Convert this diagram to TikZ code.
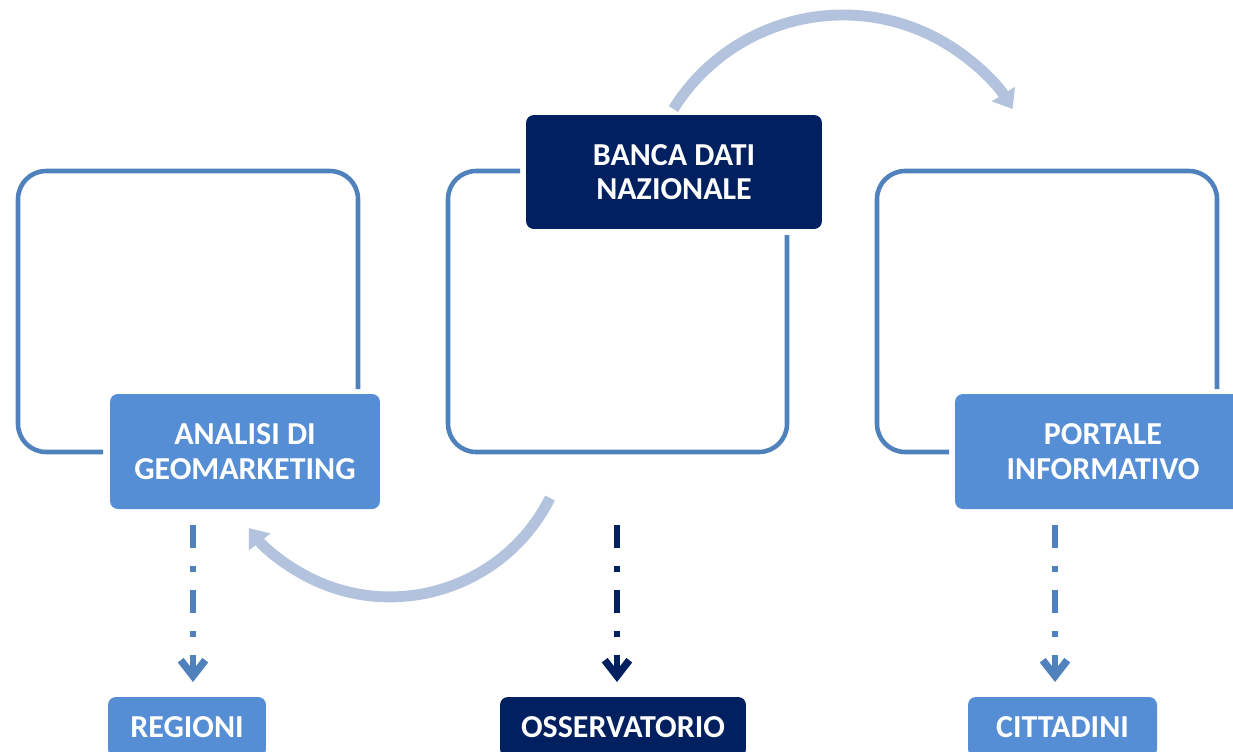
\documentclass[tikz,border=0pt]{standalone}
\usepackage{fontspec}
\setmainfont{Carlito}
\usetikzlibrary{arrows.meta}
\definecolor{frameblue}{RGB}{79,129,189}
\definecolor{boxblue}{RGB}{85,142,213}
\definecolor{navy}{RGB}{0,32,96}
\definecolor{lightarc}{RGB}{179,195,222}
\begin{document}
\begin{tikzpicture}[x=0.02cm,y=-0.02cm,
  frame/.style={draw=frameblue,line width=2.6pt,rounded corners=16pt},
  box/.style={rounded corners=4.5pt,text=white,align=center,inner sep=0pt,
    font=\fontsize{18.2}{19.5}\selectfont\bfseries},
  bigbox/.style={box,minimum height=2.3cm},
  lowbox/.style={box,minimum height=1.2cm},
  curved/.style={draw=lightarc,line width=6.2pt,-{Triangle[width=15pt,length=10pt]}},
  dd/.style={line width=3.4pt,dash pattern=on 13pt off 10.5pt on 3.4pt off 10pt,
    -{Straight Barb[length=9pt,width=14pt,line width=4.2pt]}}
]
\useasboundingbox (0,0) rectangle (1233,751);
\clip (0,0) rectangle (1233,751);
\fill[white] (0,0) rectangle (1233,751);
% frames
\draw[frame] (358,389) -- (358,171) -- (18,171) -- (18,452) -- (103,452);
\draw[frame] (787,235) -- (787,452) -- (448,452) -- (448,171) -- (520,171);
\draw[frame] (1217,389) -- (1217,171) -- (877,171) -- (877,452) -- (949,452);
% main boxes
\node[bigbox,fill=boxblue,minimum width=5.4cm] (analisi) at (245,451.5) {ANALISI DI\\GEOMARKETING};
\node[box,fill=navy,minimum width=5.92cm,minimum height=2.28cm] (banca) at (674,172) {BANCA DATI\\NAZIONALE};
\node[bigbox,fill=boxblue,minimum width=5.92cm] (portale) at (1103,451.5) {PORTALE\\INFORMATIVO};
% bottom boxes
\node[lowbox,fill=boxblue,minimum width=3.16cm] (regioni) at (187,727) {REGIONI};
\node[lowbox,fill=navy,minimum width=4.92cm] (oss) at (623,727) {OSSERVATORIO};
\node[lowbox,fill=boxblue,minimum width=3.78cm] (citt) at (1062.5,727) {CITTADINI};
% curved arrows
\draw[curved] (673.4,109) arc[start angle=-148,end angle=-32,radius=200];
\draw[curved] (550,498) arc[start angle=26.6,end angle=142,radius=179];
% dash-dot arrows
\coordinate (a1) at (193,525); \coordinate (a2) at (193,682);
\coordinate (b1) at (617,525); \coordinate (b2) at (617,682);
\coordinate (c1) at (1055,525); \coordinate (c2) at (1055,682);
\draw[dd,frameblue] (a1) -- (a2);
\draw[dd,navy] (b1) -- (b2);
\draw[dd,frameblue] (c1) -- (c2);
\end{tikzpicture}
\end{document}
